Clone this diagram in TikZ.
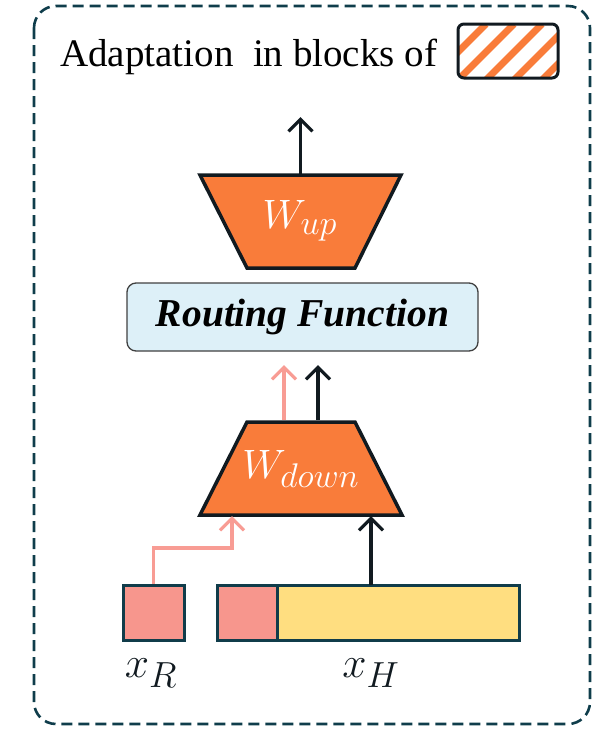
\documentclass[tikz,border=0pt]{standalone}
\usepackage{fontspec}
\setmainfont{Liberation Serif}
\usetikzlibrary{arrows.meta}
\definecolor{framec}{HTML}{0F3D4B}
\definecolor{orangec}{HTML}{F97C3A}
\definecolor{pinkc}{HTML}{F7968D}
\definecolor{pinkline}{HTML}{F89C94}
\definecolor{yellowc}{HTML}{FFDE80}
\definecolor{bluec}{HTML}{DDF0F8}
\definecolor{inkc}{HTML}{111A20}
\definecolor{cellc}{HTML}{103C4A}
\tikzset{
  frame/.style={draw=framec,line width=2.6pt,dash pattern=on 11pt off 6pt,rounded corners=22pt},
  trap/.style={draw=inkc,fill=orangec,line width=3.5pt,line join=miter},
  wlabel/.style={text=white,font=\Huge,scale=1.65,inner sep=0pt},
  routing/.style={draw=black!75,fill=bluec,line width=1.3pt,rounded corners=9pt,
    minimum width=351pt,minimum height=68pt,inner sep=0pt,
    font=\fontsize{39.5}{44}\selectfont\bfseries\itshape},
  tipstyle/.style={-{Straight Barb[length=12pt,width=24pt,line width=3.2pt]}},
  blackarrow/.style={tipstyle,draw=inkc,line width=3.4pt},
  pinkarrow/.style={tipstyle,draw=pinkline,line width=3.4pt},
  cell/.style={draw=cellc,line width=3pt,inner sep=0pt,minimum height=55pt},
  sublabel/.style={text=inkc,font=\Huge,scale=1.75,inner sep=0pt}
}
\begin{document}
\begin{tikzpicture}[x=1pt,y=-1pt]
\useasboundingbox (0,0) rectangle (593,729);

% dashed outer frame
\draw[frame] (34,6) rectangle (590,724);

% title with hatched swatch
\node[anchor=base west,inner sep=0pt,font=\fontsize{39}{44}\selectfont,text=black]
  (title) at (60,66) {Adaptation\ \ in blocks of};
\begin{scope}
  \clip[rounded corners=6pt] (458,24) rectangle (558,78);
  \fill[white] (458,24) rectangle (558,78);
  \foreach \k in {0,...,7}
    \draw[orangec,line width=7pt] (458+\k*28-60,84) -- (458+\k*28,24);
\end{scope}
\node[draw=inkc,line width=3pt,rounded corners=6pt,minimum width=100pt,
  minimum height=54pt,inner sep=0pt] (swatch) at (508,51) {};

% up-projection
\path[trap] (200,175) -- (401,175) -- (355,268) -- (247,268) -- cycle;
\node[wlabel] (wup) at (300,221) {$W_{up}$};
\coordinate (wupTop) at (300.5,175);
\coordinate (outTop) at (300.5,117);
\draw[blackarrow] (wupTop) -- (outTop);

% routing function
\node[routing] (rf) at (302.5,317) {Routing Function};

% down-projection
\path[trap] (247,422) -- (355,422) -- (402,515) -- (200,515) -- cycle;
\node[wlabel] (wdown) at (301,469) {$W_{down}$};
\coordinate (pinkOut) at (284,420);
\coordinate (pinkEnd) at (284,365);
\coordinate (blackOut) at (318,420);
\coordinate (blackEnd) at (318,365);
\draw[pinkarrow] (pinkOut) -- (pinkEnd);
\draw[blackarrow] (blackOut) -- (blackEnd);

% inputs
\node[cell,fill=pinkc,minimum width=61pt] (xr) at (153.5,612.5) {};
\node[cell,fill=pinkc,minimum width=60pt] (xhr) at (247,612.5) {};
\node[cell,fill=yellowc,minimum width=242pt] (xhh) at (398,612.5) {};
\node[sublabel] (xrl) at (151,673) {$x_R$};
\node[sublabel] (xhl) at (371,673) {$x_H$};

% input connectors
\coordinate (bend) at (232,548);
\coordinate (pinkIn) at (232,516);
\draw[pinkarrow] (xr.north) |- (bend) -- (pinkIn);
\coordinate (xhTop) at (371,585);
\coordinate (blackIn) at (371,516);
\draw[blackarrow] (xhTop) -- (blackIn);
\end{tikzpicture}
\end{document}
